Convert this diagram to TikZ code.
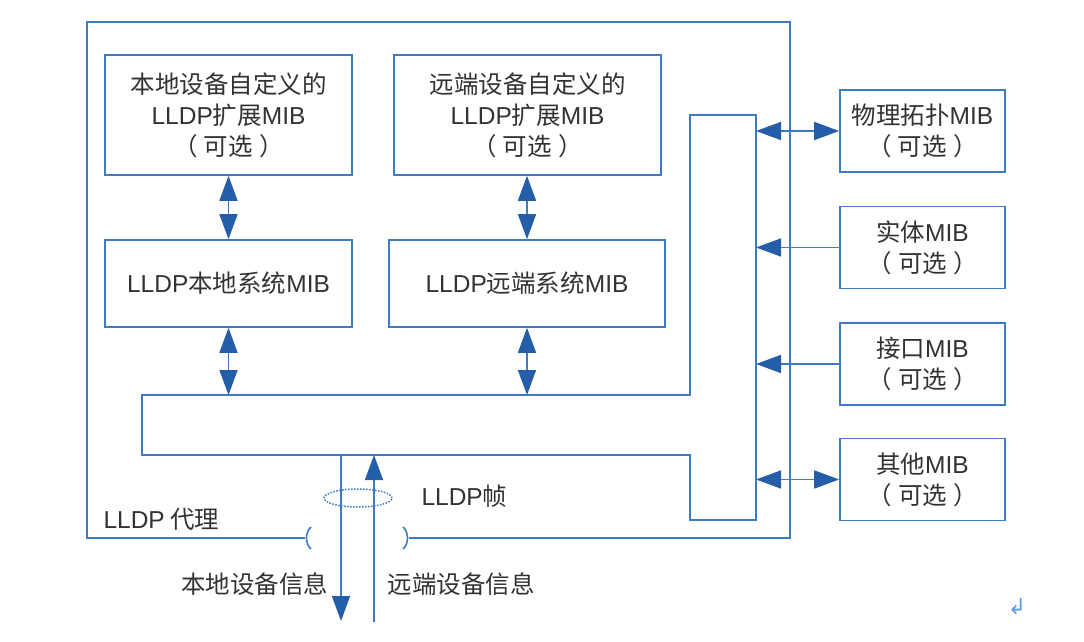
\documentclass[tikz,border=0pt]{standalone}
\usepackage{fontspec}
\setmainfont{Noto Sans CJK SC}
\newfontfamily\latnfont{Liberation Sans}
\newfontfamily\symfont{DejaVu Sans}
\newcommand\eng[1]{{\latnfont #1}}
\newcommand\opt{（\hspace{0.25em}可选\hspace{0.25em}）}
\usepackage{xcolor}
\definecolor{linea}{RGB}{62, 122, 192}
\definecolor{punta}{RGB}{36, 94, 168}
\definecolor{texto}{RGB}{50, 50, 50}
\definecolor{marca}{RGB}{90, 155, 235}
\usepackage{tikz}
\usetikzlibrary{arrows.meta}

\begin{document}
\begin{tikzpicture}[
    x=1pt, y=-1pt,
    font=\fontsize{24.5}{31}\selectfont,
    every node/.style={text=texto},
    mib/.style={rectangle, draw=linea, line width=1.6pt, align=center,
      inner sep=0pt},
    ext/.style={mib, minimum width=165pt, minimum height=82pt},
    wire/.style={draw=linea, line width=1.6pt},
    tip/.style={-{Triangle[length=25pt,width=18pt,color=punta]}},
    dtip/.style={{Triangle[length=25pt,width=18pt,color=punta]}-{Triangle[length=25pt,width=18pt,color=punta]}},
    paren/.style={draw=linea, line width=1.6pt}
  ]
    \useasboundingbox (0,0) rectangle (1084,642);

    % agent frame
    \draw[wire] (305,538) -- (87,538) -- (87,22) -- (790,22) -- (790,538) -- (409,538);
    \draw[paren] (311,527) .. controls (305,532) and (305,544) .. (311,549);
    \draw[paren] (403,527) .. controls (409,532) and (409,544) .. (403,549);
    \node[anchor=west] (agent) at (100,519) {\eng{LLDP} 代理};

    % MIB boxes inside the agent
    \node[mib, minimum width=247pt, minimum height=120pt] (locext) at (228.5,115)
      {本地设备自定义的\\\eng{LLDP}扩展\eng{MIB}\\\opt};
    \node[mib, minimum width=267pt, minimum height=120pt] (remext) at (527.5,115)
      {远端设备自定义的\\\eng{LLDP}扩展\eng{MIB}\\\opt};
    \node[mib, minimum width=247pt, minimum height=87pt] (locsys) at (228.5,283.5)
      {\eng{LLDP}本地系统\eng{MIB}};
    \node[mib, minimum width=276pt, minimum height=87pt] (remsys) at (527,283.5)
      {\eng{LLDP}远端系统\eng{MIB}};

    % bus
    \draw[wire] (142,395) -- (690,395) -- (690,115) -- (756,115) -- (756,520)
      -- (690,520) -- (690,455) -- (142,455) -- cycle;
    \coordinate (bustop) at (0,395);
    \coordinate (busright) at (756,0);

    % external MIBs
    \node[ext] (phys) at (922.5,131) {物理拓扑\eng{MIB}\\\opt};
    \node[ext] (ent)  at (922.5,247.5) {实体\eng{MIB}\\\opt};
    \node[ext] (ifc)  at (922.5,364) {接口\eng{MIB}\\\opt};
    \node[ext] (oth)  at (922.5,479.5) {其他\eng{MIB}\\\opt};

    \draw[wire, dtip] (locext.south) -- (locsys.north);
    \draw[wire, dtip] (remext.south -| remsys.north) -- (remsys.north);
    \draw[wire, dtip] (locsys.south) -- (locsys.south |- bustop);
    \draw[wire, dtip] (remsys.south) -- (remsys.south |- bustop);

    \draw[wire, dtip] (phys.west) -- (phys.west -| busright);
    \draw[wire, tip] (ent.west) -- (ent.west -| busright);
    \draw[wire, tip] (ifc.west) -- (ifc.west -| busright);
    \draw[wire, dtip] (oth.west) -- (oth.west -| busright);

    % LLDP frames
    \coordinate (txtop) at (341,455);
    \coordinate (txend) at (341,621);
    \coordinate (rxtop) at (374,455);
    \coordinate (rxend) at (374,622);
    \draw[wire, tip] (txtop) -- (txend);
    \draw[wire, tip] (rxend) -- (rxtop);
    \draw[draw=linea, line width=1.5pt, dash pattern=on 1.5pt off 1.5pt] (358,498) ellipse (34pt and 9pt);
    \node[anchor=west] (frame) at (418,496) {\eng{LLDP}帧};
    \node[anchor=east] (locinfo) at (332,584) {本地设备信息};
    \node[anchor=west] (reminfo) at (384,584) {远端设备信息};

    \node[text=marca, font=\symfont\fontsize{22}{22}\selectfont] (mark) at (1017,607) {↲};
  \end{tikzpicture}
\end{document}
